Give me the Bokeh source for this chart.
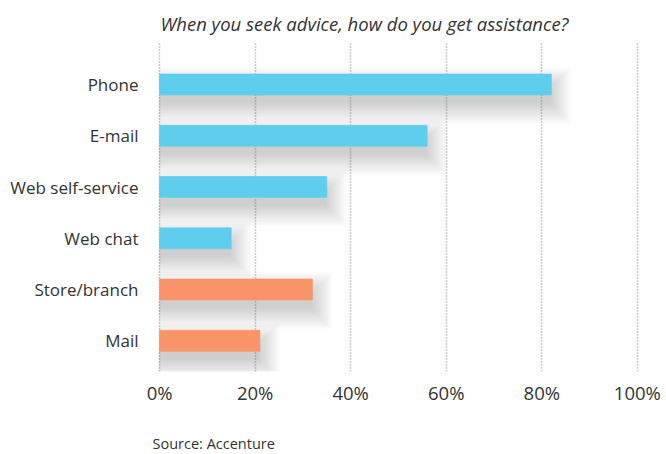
from bokeh.plotting import figure
from bokeh.models import ColumnDataSource, Range1d, FixedTicker, Title
from bokeh.embed import file_html
from bokeh.resources import INLINE

# ---- data ----
categories = ["Phone", "E-mail", "Web self-service", "Web chat", "Store/branch", "Mail"]
values = [82, 56, 35, 15, 32, 21]
bar_colors = ["#5FCDEE", "#5FCDEE", "#5FCDEE", "#5FCDEE", "#F8936A", "#F8936A"]
tick_values = [0, 20, 40, 60, 80, 100]
tick_labels = ["0%", "20%", "40%", "60%", "80%", "100%"]
title_text = "When you seek advice, how do you get assistance?"
source_text = "Source: Accenture"

# ---- layout ----
W, H = 666, 454
LEFT, RIGHT, TOP, BOTTOM = 150, 10, 42, 83
n = len(categories)
ypos = [n - 1 - i for i in range(n)]
x_start, x_end = -1.9, 104.0
y_start, y_end = -0.6, n - 1 + 0.82
frame_w = W - LEFT - RIGHT
frame_h = H - TOP - BOTTOM
px_x = frame_w / (x_end - x_start)
px_y = frame_h / (y_end - y_start)
bar_h = 0.41

p = figure(width=W, height=H, output_backend="svg", toolbar_location=None,
           x_range=Range1d(x_start, x_end), y_range=Range1d(y_start, y_end),
           min_border_left=LEFT, min_border_right=RIGHT,
           min_border_top=TOP, min_border_bottom=BOTTOM)
p.outline_line_color = None
p.background_fill_color = "white"
p.border_fill_color = "white"

# ---- soft shadows (layered translucent quads) ----
dx, dy = 5, 8
for k in range(16):
    e = k * 1.4
    src = ColumnDataSource(dict(
        left=[0.0] * n,
        right=[v + (dx + e - 6) / px_x for v in values],
        top=[y + bar_h / 2 + (-dy + e - 6) / px_y for y in ypos],
        bottom=[y - bar_h / 2 - (dy + e) / px_y for y in ypos],
    ))
    p.quad(left="left", right="right", top="top", bottom="bottom", source=src,
           fill_color="#707070", fill_alpha=0.021, line_color=None)

# ---- bars ----
bars = ColumnDataSource(dict(y=ypos, v=values, c=bar_colors))
p.hbar(y="y", right="v", left=0, height=bar_h, source=bars,
       fill_color="c", line_color="c", line_alpha=0.6)

# ---- axes ----
p.xaxis.ticker = FixedTicker(ticks=tick_values)
p.xaxis.major_label_overrides = {t: l for t, l in zip(tick_values, tick_labels)}
p.xaxis.axis_line_color = None
p.xaxis.major_tick_line_color = None
p.xaxis.minor_tick_line_color = None
p.xaxis.major_label_text_font = "Open Sans"
p.xaxis.major_label_text_font_size = "18.5px"
p.xaxis.major_label_text_color = "#333333"
p.xaxis.major_label_standoff = 2

p.yaxis.ticker = FixedTicker(ticks=ypos)
p.yaxis.major_label_overrides = {y: c for y, c in zip(ypos, categories)}
p.yaxis.axis_line_color = None
p.yaxis.major_tick_line_color = None
p.yaxis.minor_tick_line_color = None
p.yaxis.major_label_text_font = "Open Sans"
p.yaxis.major_label_text_font_size = "17px"
p.yaxis.major_label_text_color = "#333333"
p.yaxis.major_label_standoff = 6

p.xgrid.ticker = FixedTicker(ticks=tick_values)
p.xgrid.grid_line_color = "#9a9a9a"
p.xgrid.grid_line_dash = "1 2"
p.xgrid.grid_line_width = 1.5
p.ygrid.grid_line_color = None

# ---- title & source ----
p.title.text = title_text
p.title.align = "left"
p.title.offset = 10
p.title.standoff = 13
p.title.text_font = "Open Sans"
p.title.text_font_style = "italic"
p.title.text_font_size = "18.5px"
p.title.text_color = "#333333"

# blank spacer panel between the axis and the source note
p.add_layout(Title(text=" ", text_font_size="1px", standoff=22), "below")
p.add_layout(Title(text=source_text, align="left", offset=2,
                   vertical_align="middle",
                   text_font="Open Sans", text_font_style="normal",
                   text_font_size="14.5px", text_color="#333333",
                   standoff=0), "below")

open("out.html", "w").write(file_html(p, INLINE))
